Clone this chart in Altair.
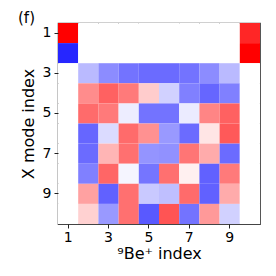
import altair as alt
import pandas as pd

ion_index = list(range(1, 11))
mode_index = list(range(1, 11))

# values in [-1, 1], rows = X mode index 1..10, columns = 9Be+ index 1..10
row1 = [1.00, 0, 0, 0, 0, 0, 0, 0, 0, 0.85]
row2 = [-0.85, 0, 0, 0, 0, 0, 0, 0, 0, 1.00]
row3 = [0, -0.27, -0.45, -0.55, -0.58, -0.58, -0.55, -0.45, -0.27, 0]
row4 = [0, 0.45, 0.62, 0.52, 0.20, -0.18, -0.50, -0.60, -0.50, 0]
row5 = [0, 0.58, 0.52, -0.07, -0.55, -0.55, -0.08, 0.48, 0.62, 0]
row6 = [0, -0.60, -0.14, 0.58, 0.43, -0.40, -0.58, 0.10, 0.65, 0]
row7 = [0, -0.58, 0.29, 0.56, -0.42, -0.43, 0.54, 0.33, -0.58, 0]
row8 = [0, -0.50, 0.60, -0.04, -0.54, 0.56, 0.06, -0.62, 0.52, 0]
row9 = [0, 0.37, -0.62, 0.56, -0.21, -0.25, 0.58, -0.62, 0.33, 0]
row10 = [0, 0.18, -0.40, 0.56, -0.65, 0.67, -0.55, 0.40, -0.18, 0]
rows = [row1, row2, row3, row4, row5, row6, row7, row8, row9, row10]

tick_values = [1, 3, 5, 7, 9]

records = []
for m, r in zip(mode_index, rows):
    for i, v in zip(ion_index, r):
        records.append({"ion": i, "mode": m, "v": v})
df = pd.DataFrame(records)

font = "DejaVu Sans"

chart = alt.Chart(df).mark_rect().encode(
    x=alt.X("ion:O", sort=ion_index,
            scale=alt.Scale(paddingInner=0, paddingOuter=0),
            axis=alt.Axis(values=tick_values, labelAngle=0, title="⁹Be⁺ index",
                          domain=False, tickColor="#222", tickSize=4,
                          labelPadding=2, labelFontSize=14, titleFontSize=16,
                          labelColor="#000", titleColor="#000",
                          titleFontWeight="normal", titlePadding=1,
                          labelFont=font, titleFont=font)),
    y=alt.Y("mode:O", sort=mode_index,
            scale=alt.Scale(paddingInner=0, paddingOuter=0),
            axis=alt.Axis(values=tick_values, title="X mode index",
                          domain=False, tickColor="#222", tickSize=4,
                          labelPadding=3, labelFontSize=14, titleFontSize=16,
                          labelColor="#000", titleColor="#000",
                          titleFontWeight="normal", titlePadding=6,
                          labelFont=font, titleFont=font)),
    color=alt.Color("v:Q", legend=None,
                    scale=alt.Scale(domain=[-1, 0, 1],
                                    range=["#0000ff", "#ffffff", "#ff0000"],
                                    interpolate="rgb")),
).properties(
    width=202, height=201,
    title=alt.TitleParams("(f)", anchor="start", frame="group", dx=-40,
                          offset=-3, fontSize=15, font=font,
                          fontWeight="normal", color="#000"),
    autosize=alt.AutoSizeParams(type="none"),
    padding={"left": 50, "top": 15, "right": 8, "bottom": 40},
).configure_view(stroke="#444", strokeWidth=1.2)

chart.save("out.html", embed_options={"renderer": "svg", "actions": False})
